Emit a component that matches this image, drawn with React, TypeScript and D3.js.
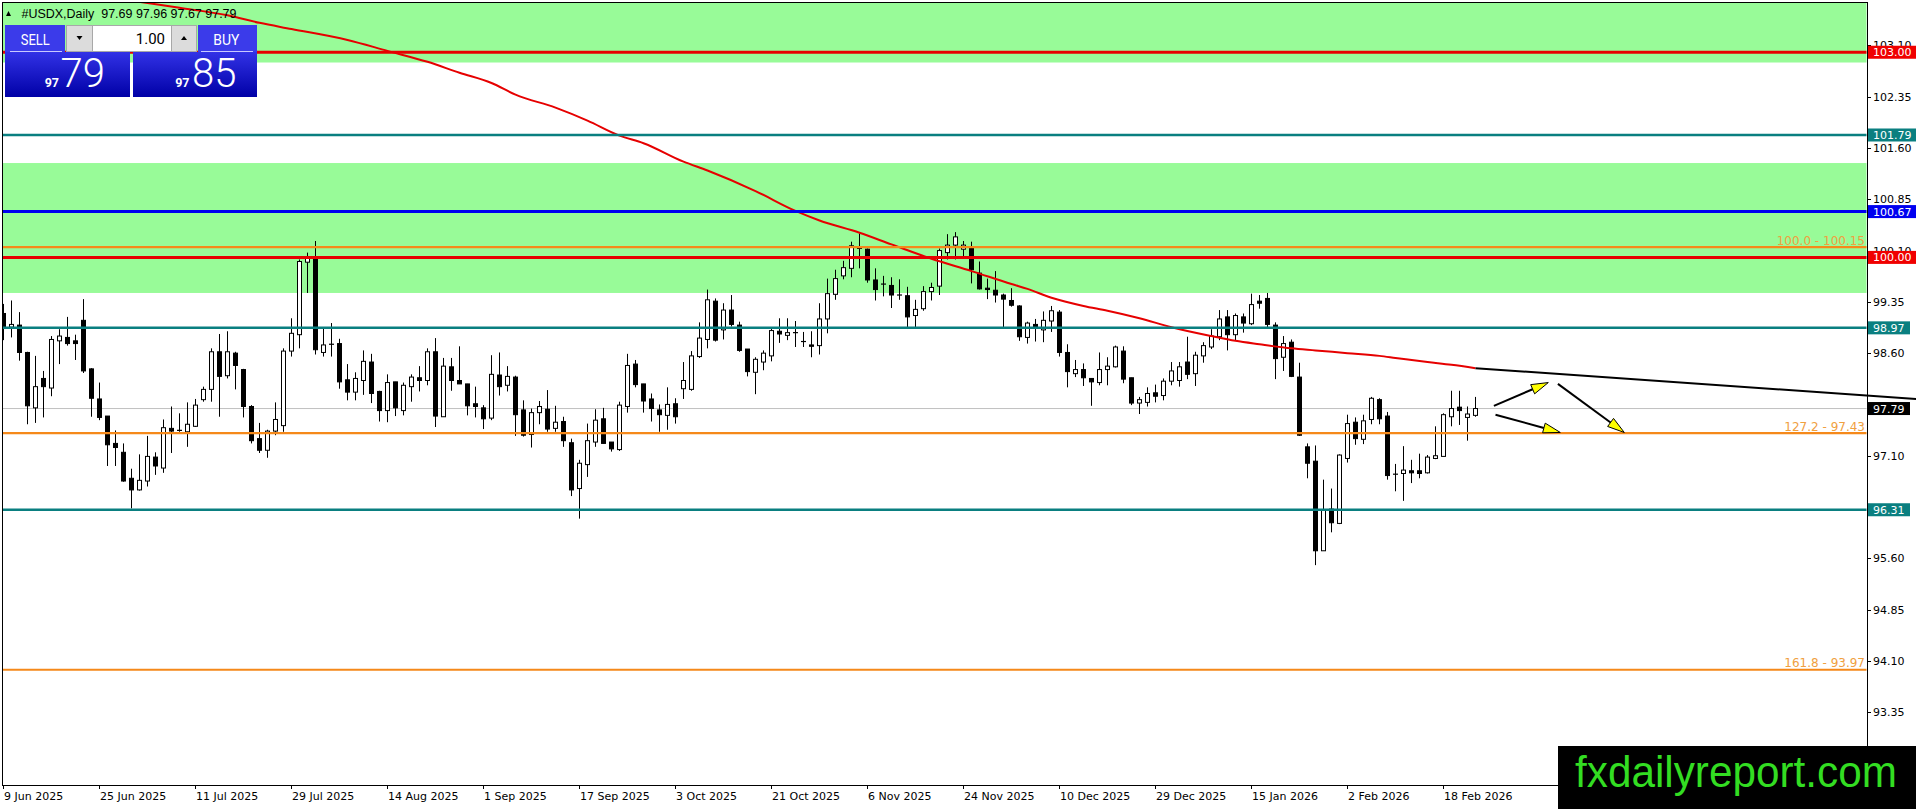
import React from "react";
import * as d3 from "d3";

// ---------- DATA ----------
const opens = [
  99.18, 98.98, 99.01, 98.61, 97.80, 98.23, 98.09, 98.78, 98.83, 98.78,
  99.08, 98.37, 97.93, 97.68, 97.28, 97.15, 96.77, 96.60, 96.73, 97.08,
  96.92, 97.50, 97.47, 97.45, 97.53, 97.92, 98.07, 98.62, 98.27, 98.60,
  98.36, 97.82, 97.35, 97.18, 97.46, 97.54, 98.63, 98.87, 99.93, 99.99,
  98.61, 98.73, 98.74, 98.21, 98.03, 98.20, 98.47, 98.04, 97.76, 98.18,
  97.76, 98.11, 98.24, 98.20, 98.62, 97.67, 98.40, 98.20, 98.15, 97.86,
  97.80, 97.65, 98.28, 98.13, 98.25, 97.77, 97.41, 97.73, 97.78, 97.50,
  97.60, 97.29, 96.62, 96.97, 97.30, 97.64, 97.30, 97.19, 97.82, 98.44,
  98.15, 97.93, 97.77, 97.69, 97.86, 98.08, 98.07, 98.55, 98.80, 99.36,
  98.94, 99.23, 99.01, 98.66, 98.32, 98.47, 98.56, 98.92, 98.86, 98.90,
  98.77, 98.72, 98.71, 99.10, 99.46, 99.73, 99.84, 100.13, 100.12, 99.67,
  99.61, 99.59, 99.45, 99.44, 99.15, 99.25, 99.50, 99.58, 100.07, 100.18,
  100.12, 100.13, 99.77, 99.55, 99.52, 99.45, 99.37, 99.29, 98.83, 99.02,
  98.94, 99.07, 99.20, 98.61, 98.30, 98.36, 98.23, 98.17, 98.36, 98.40,
  98.63, 98.24, 97.87, 97.88, 98.02, 97.98, 98.19, 98.20, 98.47, 98.30,
  98.56, 98.69, 98.84, 99.13, 98.87, 99.13, 99.03, 99.36, 99.40, 99.01,
  98.54, 98.76, 98.25, 97.23, 97.02, 95.71, 96.32, 96.11, 97.06, 97.59,
  97.34, 97.63, 97.92, 97.68, 96.83, 96.84, 96.88, 96.88, 96.85, 97.06,
  97.09, 97.67, 97.81, 97.66, 97.69,
];
const highs = [
  99.32, 99.37, 99.20, 98.62, 98.56, 98.34, 98.85, 98.95, 99.13, 98.87,
  99.39, 98.38, 98.17, 97.68, 97.47, 97.28, 96.91, 97.12, 97.39, 97.15,
  97.63, 97.82, 97.72, 97.88, 97.93, 98.11, 98.67, 98.88, 98.92, 98.62,
  98.37, 97.84, 97.58, 97.48, 97.88, 98.67, 99.11, 99.97, 100.07, 100.24,
  98.96, 99.04, 98.81, 98.44, 98.32, 98.64, 98.59, 98.05, 98.29, 98.18,
  98.17, 98.29, 98.41, 98.67, 98.82, 98.53, 98.53, 98.70, 98.15, 98.11,
  97.84, 98.57, 98.61, 98.41, 98.27, 97.91, 97.79, 97.90, 98.06, 97.83,
  97.67, 97.35, 97.04, 97.57, 97.78, 97.80, 97.30, 97.89, 98.59, 98.50,
  98.15, 98.01, 97.85, 98.10, 97.94, 98.47, 98.63, 99.05, 99.53, 99.40,
  99.33, 99.45, 99.06, 98.66, 98.54, 98.64, 98.96, 99.11, 99.11, 99.07,
  98.91, 98.92, 99.33, 99.69, 99.82, 99.95, 100.23, 100.35, 100.13, 99.84,
  99.73, 99.71, 99.68, 99.57, 99.38, 99.58, 99.63, 100.13, 100.34, 100.37,
  100.24, 100.23, 99.94, 99.69, 99.80, 99.47, 99.55, 99.30, 99.06, 99.10,
  99.21, 99.29, 99.23, 98.73, 98.50, 98.45, 98.23, 98.61, 98.54, 98.71,
  98.70, 98.24, 97.96, 98.10, 98.14, 98.23, 98.47, 98.47, 98.84, 98.62,
  98.76, 98.95, 99.23, 99.23, 99.18, 99.18, 99.47, 99.45, 99.48, 99.05,
  98.85, 98.80, 98.46, 97.28, 97.25, 96.75, 96.62, 97.12, 97.70, 97.66,
  97.70, 97.96, 97.94, 97.74, 96.98, 97.24, 97.04, 97.13, 97.11, 97.53,
  97.72, 98.05, 98.05, 97.82, 97.96,
];
const lows = [
  98.79, 98.83, 98.49, 97.56, 97.58, 97.66, 97.97, 98.44, 98.71, 98.50,
  98.31, 97.67, 97.62, 96.95, 96.95, 96.72, 96.33, 96.59, 96.65, 96.82,
  96.85, 97.14, 97.45, 97.23, 97.52, 97.89, 97.89, 97.67, 98.23, 98.07,
  97.66, 97.28, 97.14, 97.07, 97.40, 97.45, 98.55, 98.67, 99.48, 98.58,
  98.55, 98.55, 98.08, 97.91, 97.91, 97.99, 97.87, 97.60, 97.59, 97.68,
  97.69, 97.89, 98.04, 98.13, 97.52, 97.67, 98.05, 98.15, 97.69, 97.66,
  97.49, 97.62, 97.98, 98.04, 97.39, 97.38, 97.22, 97.56, 97.45, 97.45,
  97.23, 96.51, 96.18, 96.79, 97.23, 97.28, 97.16, 97.17, 97.73, 98.10,
  97.73, 97.60, 97.45, 97.48, 97.57, 97.93, 98.05, 98.53, 98.67, 98.77,
  98.80, 98.99, 98.62, 98.26, 98.00, 98.35, 98.48, 98.75, 98.79, 98.69,
  98.69, 98.54, 98.58, 98.89, 99.38, 99.68, 99.71, 99.84, 99.63, 99.37,
  99.43, 99.26, 99.38, 98.98, 98.98, 99.22, 99.37, 99.45, 99.97, 99.97,
  99.98, 99.62, 99.53, 99.39, 99.34, 98.98, 99.28, 98.78, 98.74, 98.77,
  98.76, 98.91, 98.55, 98.10, 98.25, 98.12, 97.83, 98.13, 98.13, 98.39,
  98.16, 97.84, 97.71, 97.82, 97.88, 97.91, 98.13, 98.11, 98.22, 98.12,
  98.46, 98.66, 98.79, 98.64, 98.79, 98.90, 99.01, 99.25, 98.98, 98.22,
  98.34, 98.25, 97.39, 96.77, 95.50, 95.71, 95.98, 96.10, 97.00, 97.26,
  97.27, 97.56, 97.56, 96.75, 96.58, 96.44, 96.70, 96.77, 96.84, 97.05,
  97.09, 97.53, 97.55, 97.32, 97.67,
];
const closes = [
  98.96, 99.02, 98.61, 97.83, 98.11, 98.11, 98.80, 98.85, 98.74, 98.74,
  98.34, 97.94, 97.66, 97.26, 97.22, 96.73, 96.60, 96.74, 97.09, 96.95,
  97.51, 97.46, 97.46, 97.56, 97.84, 98.07, 98.62, 98.26, 98.62, 98.42,
  97.82, 97.32, 97.18, 97.46, 97.63, 98.63, 98.89, 99.94, 99.99, 98.65,
  98.72, 98.73, 98.18, 98.03, 98.23, 98.48, 98.01, 97.76, 98.17, 97.80,
  98.13, 98.25, 98.20, 98.62, 97.68, 98.41, 98.20, 98.15, 97.83, 97.82,
  97.64, 98.29, 98.11, 98.26, 97.70, 97.40, 97.73, 97.82, 97.49, 97.59,
  97.32, 96.60, 96.99, 97.32, 97.62, 97.28, 97.20, 97.84, 98.42, 98.14,
  97.90, 97.79, 97.70, 97.85, 97.67, 98.20, 98.56, 98.82, 99.38, 98.79,
  99.23, 99.02, 98.64, 98.33, 98.51, 98.60, 98.93, 98.88, 98.90, 98.90,
  98.77, 98.70, 99.10, 99.47, 99.69, 99.85, 100.17, 100.13, 99.67, 99.53,
  99.61, 99.45, 99.45, 99.13, 99.24, 99.50, 99.56, 100.10, 100.18, 100.30,
  100.18, 99.82, 99.54, 99.53, 99.45, 99.39, 99.30, 98.84, 99.04, 98.99,
  99.08, 99.22, 98.61, 98.33, 98.36, 98.24, 98.18, 98.36, 98.41, 98.69,
  98.22, 97.87, 97.92, 98.01, 97.97, 98.19, 98.34, 98.40, 98.29, 98.57,
  98.71, 98.85, 99.10, 98.87, 99.15, 99.04, 99.31, 99.33, 99.02, 98.52,
  98.74, 98.26, 97.40, 96.99, 95.71, 96.31, 96.12, 97.11, 97.57, 97.35,
  97.61, 97.94, 97.64, 96.81, 96.83, 96.89, 96.85, 96.84, 97.08, 97.10,
  97.70, 97.79, 97.76, 97.71, 97.79,
];

const dateLabels = [
  "9 Jun 2025", "25 Jun 2025", "11 Jul 2025", "29 Jul 2025", "14 Aug 2025",
  "1 Sep 2025", "17 Sep 2025", "3 Oct 2025", "21 Oct 2025", "6 Nov 2025",
  "24 Nov 2025", "10 Dec 2025", "29 Dec 2025", "15 Jan 2026", "2 Feb 2026",
  "18 Feb 2026",
];
const barsPerDateLabel = 12;

const priceTicks = [
  103.10, 102.35, 101.60, 100.85, 100.10, 99.35, 98.60, 97.85, 97.10,
  96.35, 95.60, 94.85, 94.10, 93.35, 92.60,
];

// moving average (read at sampled bars)
const maBars = [
  12, 18, 22, 28, 32, 36, 43, 48, 53, 57, 61, 64, 69, 73, 77, 80, 85, 88,
  94, 99, 102, 107, 111, 116, 121, 126, 128, 131, 135, 138, 142, 146, 151,
  154, 157, 161, 164, 168, 172, 174, 178, 181, 184,
];
const maValues = [
  103.82, 103.72, 103.65, 103.54, 103.43, 103.34, 103.18, 103.02, 102.86,
  102.70, 102.55, 102.38, 102.19, 102.00, 101.78, 101.67, 101.40, 101.27,
  100.97, 100.68, 100.54, 100.36, 100.19, 99.98, 99.80, 99.61, 99.54, 99.41,
  99.29, 99.22, 99.11, 98.98, 98.85, 98.78, 98.73, 98.67, 98.64, 98.60,
  98.56, 98.53, 98.47, 98.43, 98.38,
];

const zoneLows = [102.85, 99.48];
const zoneHighs = [104.5, 101.38];

const redLevels = [103.0, 100.0];
const tealLevels = [101.79, 98.97, 96.31];
const blueLevels = [100.67];
const fibValues = [100.15, 97.43, 93.97];
const fibLabels = ["100.0 - 100.15", "127.2 - 97.43", "161.8 - 93.97"];
const bidPrice = 97.79;
const askPrice = 97.85;
const lotSize = "1.00";

const trendBars = [184, 239.1];
const trendValues = [98.38, 97.93];

const arrowFromBars = [186.3, 194.3, 186.5];
const arrowFromValues = [97.83, 98.15, 97.7];
const arrowToBars = [193.1, 202.6, 194.6];
const arrowToValues = [98.17, 97.44, 97.44];

const symbolTitle = "#USDX,Daily";
const watermark = "fxdailyreport.com";

// ---------- COMPONENT ----------
const W = 1916;
const H = 809;
const L = 2;
const T = 2;
const R = 1867;
const B = 785;
const WM_X = 1558;
const WM_Y = 746;

const AXIS_FONT = "'DejaVu Sans', sans-serif";
const RED = "#e60000";
const TEAL = "#0a7f80";
const BLUE = "#0000f0";
const ORANGE = "#f5891a";

export default function App() {
  const x = d3.scaleLinear().domain([0, 1]).range([3.5, 11.5]);
  const y = d3.scaleLinear().domain([102.35, 95.6]).range([96.7, 558.3]);

  const maPath = d3
    .line<number>()
    .x((_, k) => x(maBars[k]))
    .y((v) => y(v))
    .curve(d3.curveMonotoneX)(maValues) as string;

  const last = closes.length - 1;
  const ohlcText = [opens[last], highs[last], lows[last], closes[last]]
    .map((v) => v.toFixed(2))
    .join(" ");

  const priceBoxes = [
    ...redLevels.map((v) => ({ v, fill: "#f00000" })),
    ...tealLevels.map((v) => ({ v, fill: TEAL })),
    ...blueLevels.map((v) => ({ v, fill: BLUE })),
    { v: bidPrice, fill: "#000000" },
  ];
  // tick labels fully hidden (behind a price box or the watermark) are not drawn
  const visibleTicks = priceTicks.filter(
    (t) =>
      !priceBoxes.some((p) => Math.abs(y(p.v) - y(t)) < 6) && y(t) - 5 < WM_Y
  );

  const arrows = arrowFromBars.map((_, k) => {
    const x1 = x(arrowFromBars[k]);
    const y1 = y(arrowFromValues[k]);
    const x2 = x(arrowToBars[k]);
    const y2 = y(arrowToValues[k]);
    const ang = Math.atan2(y2 - y1, x2 - x1);
    const len = 17;
    const hw = 5;
    const bx = x2 - len * Math.cos(ang);
    const by = y2 - len * Math.sin(ang);
    const px = -Math.sin(ang) * hw;
    const py = Math.cos(ang) * hw;
    return {
      x1, y1, bx, by,
      tri: `M${x2},${y2}L${bx + px},${by + py}L${bx - px},${by - py}Z`,
    };
  });

  const splitPrice = (p: number) => p.toFixed(2).split(".");
  const [sellBig1, sellBig2] = splitPrice(bidPrice);
  const [buyBig1, buyBig2] = splitPrice(askPrice);

  return (
    <svg
      width={W}
      height={H}
      style={{ position: "absolute", left: 0, top: 0, display: "block", background: "#fff" }}
    >
      <defs>
        <clipPath id="plot">
          <rect x={L + 0.5} y={T + 0.5} width={R - L - 1} height={B - T - 1} />
        </clipPath>
        <linearGradient id="pricebox" x1="0" y1="0" x2="0" y2="1">
          <stop offset="0" stopColor="#3232e6" />
          <stop offset="1" stopColor="#0000a6" />
        </linearGradient>
      </defs>
      <rect x={0} y={0} width={W} height={H} fill="#ffffff" />

      <g clipPath="url(#plot)">
        {zoneLows.map((lo, k) => (
          <rect
            key={"z" + k}
            x={L}
            y={y(zoneHighs[k])}
            width={R - L}
            height={y(lo) - y(zoneHighs[k])}
            fill="#98fb98"
          />
        ))}
        <line x1={L} x2={R} y1={y(bidPrice)} y2={y(bidPrice)} stroke="#c0c0c0" strokeWidth={1} />

        {opens.map((o, i) => {
          const c = closes[i];
          const cx = x(i);
          const top = y(Math.max(o, c));
          const bot = y(Math.min(o, c));
          const up = c >= o;
          const h = bot - top;
          return (
            <g key={"c" + i}>
              <line x1={cx} x2={cx} y1={y(highs[i])} y2={y(lows[i])} stroke="#000" strokeWidth={1} />
              {h < 1.2 ? (
                <line x1={cx - 2.5} x2={cx + 2.5} y1={top} y2={top} stroke="#000" strokeWidth={1.2} />
              ) : (
                <rect
                  x={cx - 2}
                  y={top}
                  width={4}
                  height={h}
                  fill={up ? "#ffffff" : "#000000"}
                  stroke="#000"
                  strokeWidth={1}
                />
              )}
            </g>
          );
        })}

        <path d={maPath} fill="none" stroke={RED} strokeWidth={2} />

        {fibValues.map((v, k) => (
          <line key={"f" + k} x1={L} x2={R} y1={y(v)} y2={y(v)} stroke={ORANGE} strokeWidth={2.2} />
        ))}
        {tealLevels.map((v, k) => (
          <line key={"t" + k} x1={L} x2={R} y1={y(v)} y2={y(v)} stroke={TEAL} strokeWidth={2.5} />
        ))}
        {blueLevels.map((v, k) => (
          <line key={"b" + k} x1={L} x2={R} y1={y(v)} y2={y(v)} stroke={BLUE} strokeWidth={3} />
        ))}
        {redLevels.map((v, k) => (
          <line key={"r" + k} x1={L} x2={R} y1={y(v)} y2={y(v)} stroke={RED} strokeWidth={3} />
        ))}

        {fibValues.map((v, k) => (
          <text
            key={"fl" + k}
            x={R - 2}
            y={y(v) - 2.5}
            textAnchor="end"
            fontFamily={AXIS_FONT}
            fontSize={12}
            fill="#f0a040"
          >
            {fibLabels[k]}
          </text>
        ))}

        {arrows.map((a, k) => (
          <g key={"a" + k}>
            <line x1={a.x1} y1={a.y1} x2={a.bx} y2={a.by} stroke="#000" strokeWidth={2} />
            <path d={a.tri} fill="#ffff00" stroke="#000" strokeWidth={1} />
          </g>
        ))}
      </g>

      <line
        x1={x(trendBars[0])}
        y1={y(trendValues[0])}
        x2={x(trendBars[1])}
        y2={y(trendValues[1])}
        stroke="#000"
        strokeWidth={2}
      />

      <line x1={L + 0.5} x2={L + 0.5} y1={T} y2={B} stroke="#000" strokeWidth={1} />
      <line x1={L} x2={R} y1={T + 0.5} y2={T + 0.5} stroke="#000" strokeWidth={1} />
      <line x1={R + 0.5} x2={R + 0.5} y1={T} y2={B + 0.5} stroke="#000" strokeWidth={1} />
      <line x1={L} x2={R + 1} y1={B + 0.5} y2={B + 0.5} stroke="#000" strokeWidth={1} />

      {priceTicks.map((v, k) => (
        <line
          key={"ptm" + k}
          x1={R}
          x2={R + 4}
          y1={Math.round(y(v)) + 0.5}
          y2={Math.round(y(v)) + 0.5}
          stroke="#000"
        />
      ))}
      {visibleTicks.map((v, k) => (
        <text key={"pt" + k} x={R + 6} y={y(v) + 4} fontFamily={AXIS_FONT} fontSize={11} fill="#000">
          {v.toFixed(2)}
        </text>
      ))}

      {priceBoxes.map((p, k) => {
        const label = p.v.toFixed(2);
        const w = label.length >= 6 ? 49 : 42;
        return (
          <g key={"pb" + k}>
            <rect x={R + 1} y={y(p.v) - 6.5} width={w} height={13} fill={p.fill} />
            <text x={R + 6} y={y(p.v) + 4} fontFamily={AXIS_FONT} fontSize={11} fill="#fff">
              {label}
            </text>
          </g>
        );
      })}

      {dateLabels.map((d, k) => {
        const xi = x(k * barsPerDateLabel);
        return (
          <g key={"d" + k}>
            <line x1={xi} x2={xi} y1={B} y2={B + 4} stroke="#000" />
            <text x={xi + 0.5} y={B + 15} fontFamily={AXIS_FONT} fontSize={11} fill="#000">
              {d}
            </text>
          </g>
        );
      })}

      <path d="M6,16 L8.5,11 L11,16 Z" fill="#000" />
      <text
        x={21.5}
        y={17.5}
        fontFamily="'Liberation Sans', Arial, sans-serif"
        fontSize={12.5}
        fill="#000"
        textLength={215}
        lengthAdjust="spacingAndGlyphs"
        xmlSpace="preserve"
        style={{ whiteSpace: "pre" }}
      >
        {symbolTitle + "  " + ohlcText}
      </text>

      <g fontFamily="Roboto, 'Open Sans', sans-serif">
        <rect x={5} y={25} width={60} height={27} fill="#3b3bea" />
        <rect x={198} y={25} width={59} height={27} fill="#3b3bea" />
        <line x1={10} x2={62} y1={51.5} y2={51.5} stroke="#c8c8ff" strokeWidth={1} />
        <line x1={201} x2={253} y1={51.5} y2={51.5} stroke="#c8c8ff" strokeWidth={1} />
        <text x={35.3} y={45} textAnchor="middle" fontSize={15} fill="#fff" textLength={29} lengthAdjust="spacingAndGlyphs">SELL</text>
        <text x={226.3} y={45} textAnchor="middle" fontSize={15} fill="#fff" textLength={26} lengthAdjust="spacingAndGlyphs">BUY</text>
        <rect x={66.5} y={25.5} width={26} height={26} fill="#dcdcdc" stroke="#a8a8a8" />
        <path d="M76.5,36 L82.5,36 L79.5,40 Z" fill="#000" />
        <rect x={92.5} y={25.5} width={79} height={26} fill="#ffffff" stroke="#a8a8a8" />
        <text x={165} y={43.5} textAnchor="end" fontSize={15} fill="#000">{lotSize}</text>
        <rect x={171.5} y={25.5} width={25} height={26} fill="#dcdcdc" stroke="#a8a8a8" />
        <path d="M181,40 L187,40 L184,36 Z" fill="#000" />
        <rect x={5} y={52} width={125} height={45} fill="url(#pricebox)" />
        <rect x={133} y={52} width={124} height={45} fill="url(#pricebox)" />
        <text x={59} y={87.3} textAnchor="end" fontSize={12.5} fontWeight="bold" fill="#fff">{sellBig1}</text>
        <text x={60.5} y={87.3} fontSize={40} fontWeight={300} fill="#fff">{sellBig2}</text>
        <text x={189.5} y={87.3} textAnchor="end" fontSize={12.5} fontWeight="bold" fill="#fff">{buyBig1}</text>
        <text x={192} y={87.3} fontSize={40} fontWeight={300} fill="#fff">{buyBig2}</text>
      </g>

      <rect x={WM_X} y={WM_Y} width={W - WM_X} height={H - WM_Y} fill="#000" />
      <text
        x={1575}
        y={787}
        fontFamily="'Liberation Sans', Arial, sans-serif"
        fontSize={44}
        fill="#33dd22"
        textLength={322}
        lengthAdjust="spacingAndGlyphs"
      >
        {watermark}
      </text>
    </svg>
  );
}
